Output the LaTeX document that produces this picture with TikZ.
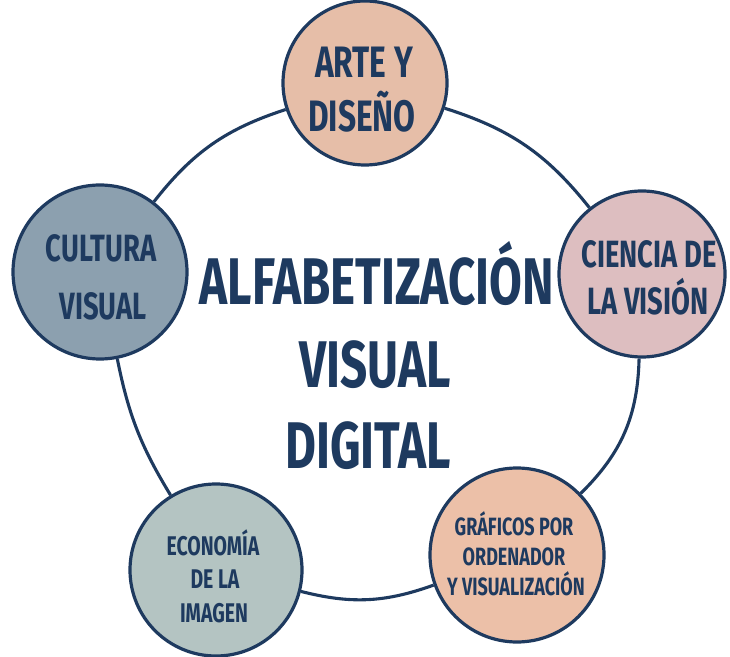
\documentclass[tikz,border=0pt]{standalone}
\usepackage{fontspec}
\newfontfamily\hand{Fira Sans}[FakeStretch=0.72]
\definecolor{navy}{RGB}{30,58,95}
\definecolor{artefill}{RGB}{230,190,168}
\definecolor{cienciafill}{RGB}{221,190,192}
\definecolor{culturafill}{RGB}{140,160,175}
\definecolor{economiafill}{RGB}{180,196,194}
\definecolor{graficosfill}{RGB}{236,192,168}
\begin{document}
\begin{tikzpicture}[x=1pt,y=1pt,
  bubble/.style={circle, draw=navy, line width=3.2pt, inner sep=0pt},
  link/.style={draw=navy, line width=3.1pt},
  lbl/.style={text=navy, anchor=base, inner sep=0pt},
  big/.style={lbl, font={\hand\bfseries\fontsize{66}{66}\selectfont}},
  mid/.style={lbl, font={\hand\bfseries\fontsize{44}{44}\selectfont}},
  midb/.style={lbl, font={\hand\bfseries\fontsize{38}{38}\selectfont}},
  small/.style={lbl, font={\hand\bfseries\fontsize{27}{27}\selectfont}},
  smallb/.style={lbl, font={\hand\bfseries\fontsize{25}{25}\selectfont}}]
\useasboundingbox (0,0) rectangle (730,656);
% circles
\node[bubble, fill=artefill, minimum size=164pt] (arte) at (365,573) {};
\node[bubble, fill=cienciafill, minimum size=166pt] (ciencia) at (642,382) {};
\node[bubble, fill=culturafill, minimum size=174pt] (cultura) at (100,384) {};
\node[bubble, fill=economiafill, minimum size=172pt] (economia) at (216,86) {};
\node[bubble, fill=graficosfill, minimum size=174pt] (graficos) at (517,101) {};
% connectors
\draw[link] (arte) to[bend left=17] (ciencia);
\draw[link] (ciencia) to[bend left=22] (graficos);
\draw[link] (graficos) to[bend left=17] (economia);
\draw[link] (economia) to[bend left=10] (cultura);
\draw[link] (cultura) to[bend left=17] (arte);
% central title
\node[big] (t1) at (377,351) {ALFABETIZACIÓN};
\node[big] (t2) at (375,268) {VISUAL};
\node[big] (t3) at (368,188) {DIGITAL};
% labels
\node[mid] (a1) at (364,578) {ARTE Y};
\node[mid] (a2) at (362,524) {DISEÑO};
\node[midb] (c1) at (649,388) {CIENCIA DE};
\node[midb] (c2) at (648,341) {LA VISIÓN};
\node[midb] (u1) at (101,394) {CULTURA};
\node[midb] (u2) at (103,336) {VISUAL};
\node[small] (e1) at (213,101) {ECONOMÍA};
\node[small] (e2) at (215,68) {DE LA};
\node[small] (e3) at (214,34) {IMAGEN};
\node[smallb] (g1) at (514,121) {GRÁFICOS POR};
\node[smallb] (g2) at (514,91) {ORDENADOR};
\node[smallb] (g3) at (516,61) {Y VISUALIZACIÓN};
\end{tikzpicture}
\end{document}
